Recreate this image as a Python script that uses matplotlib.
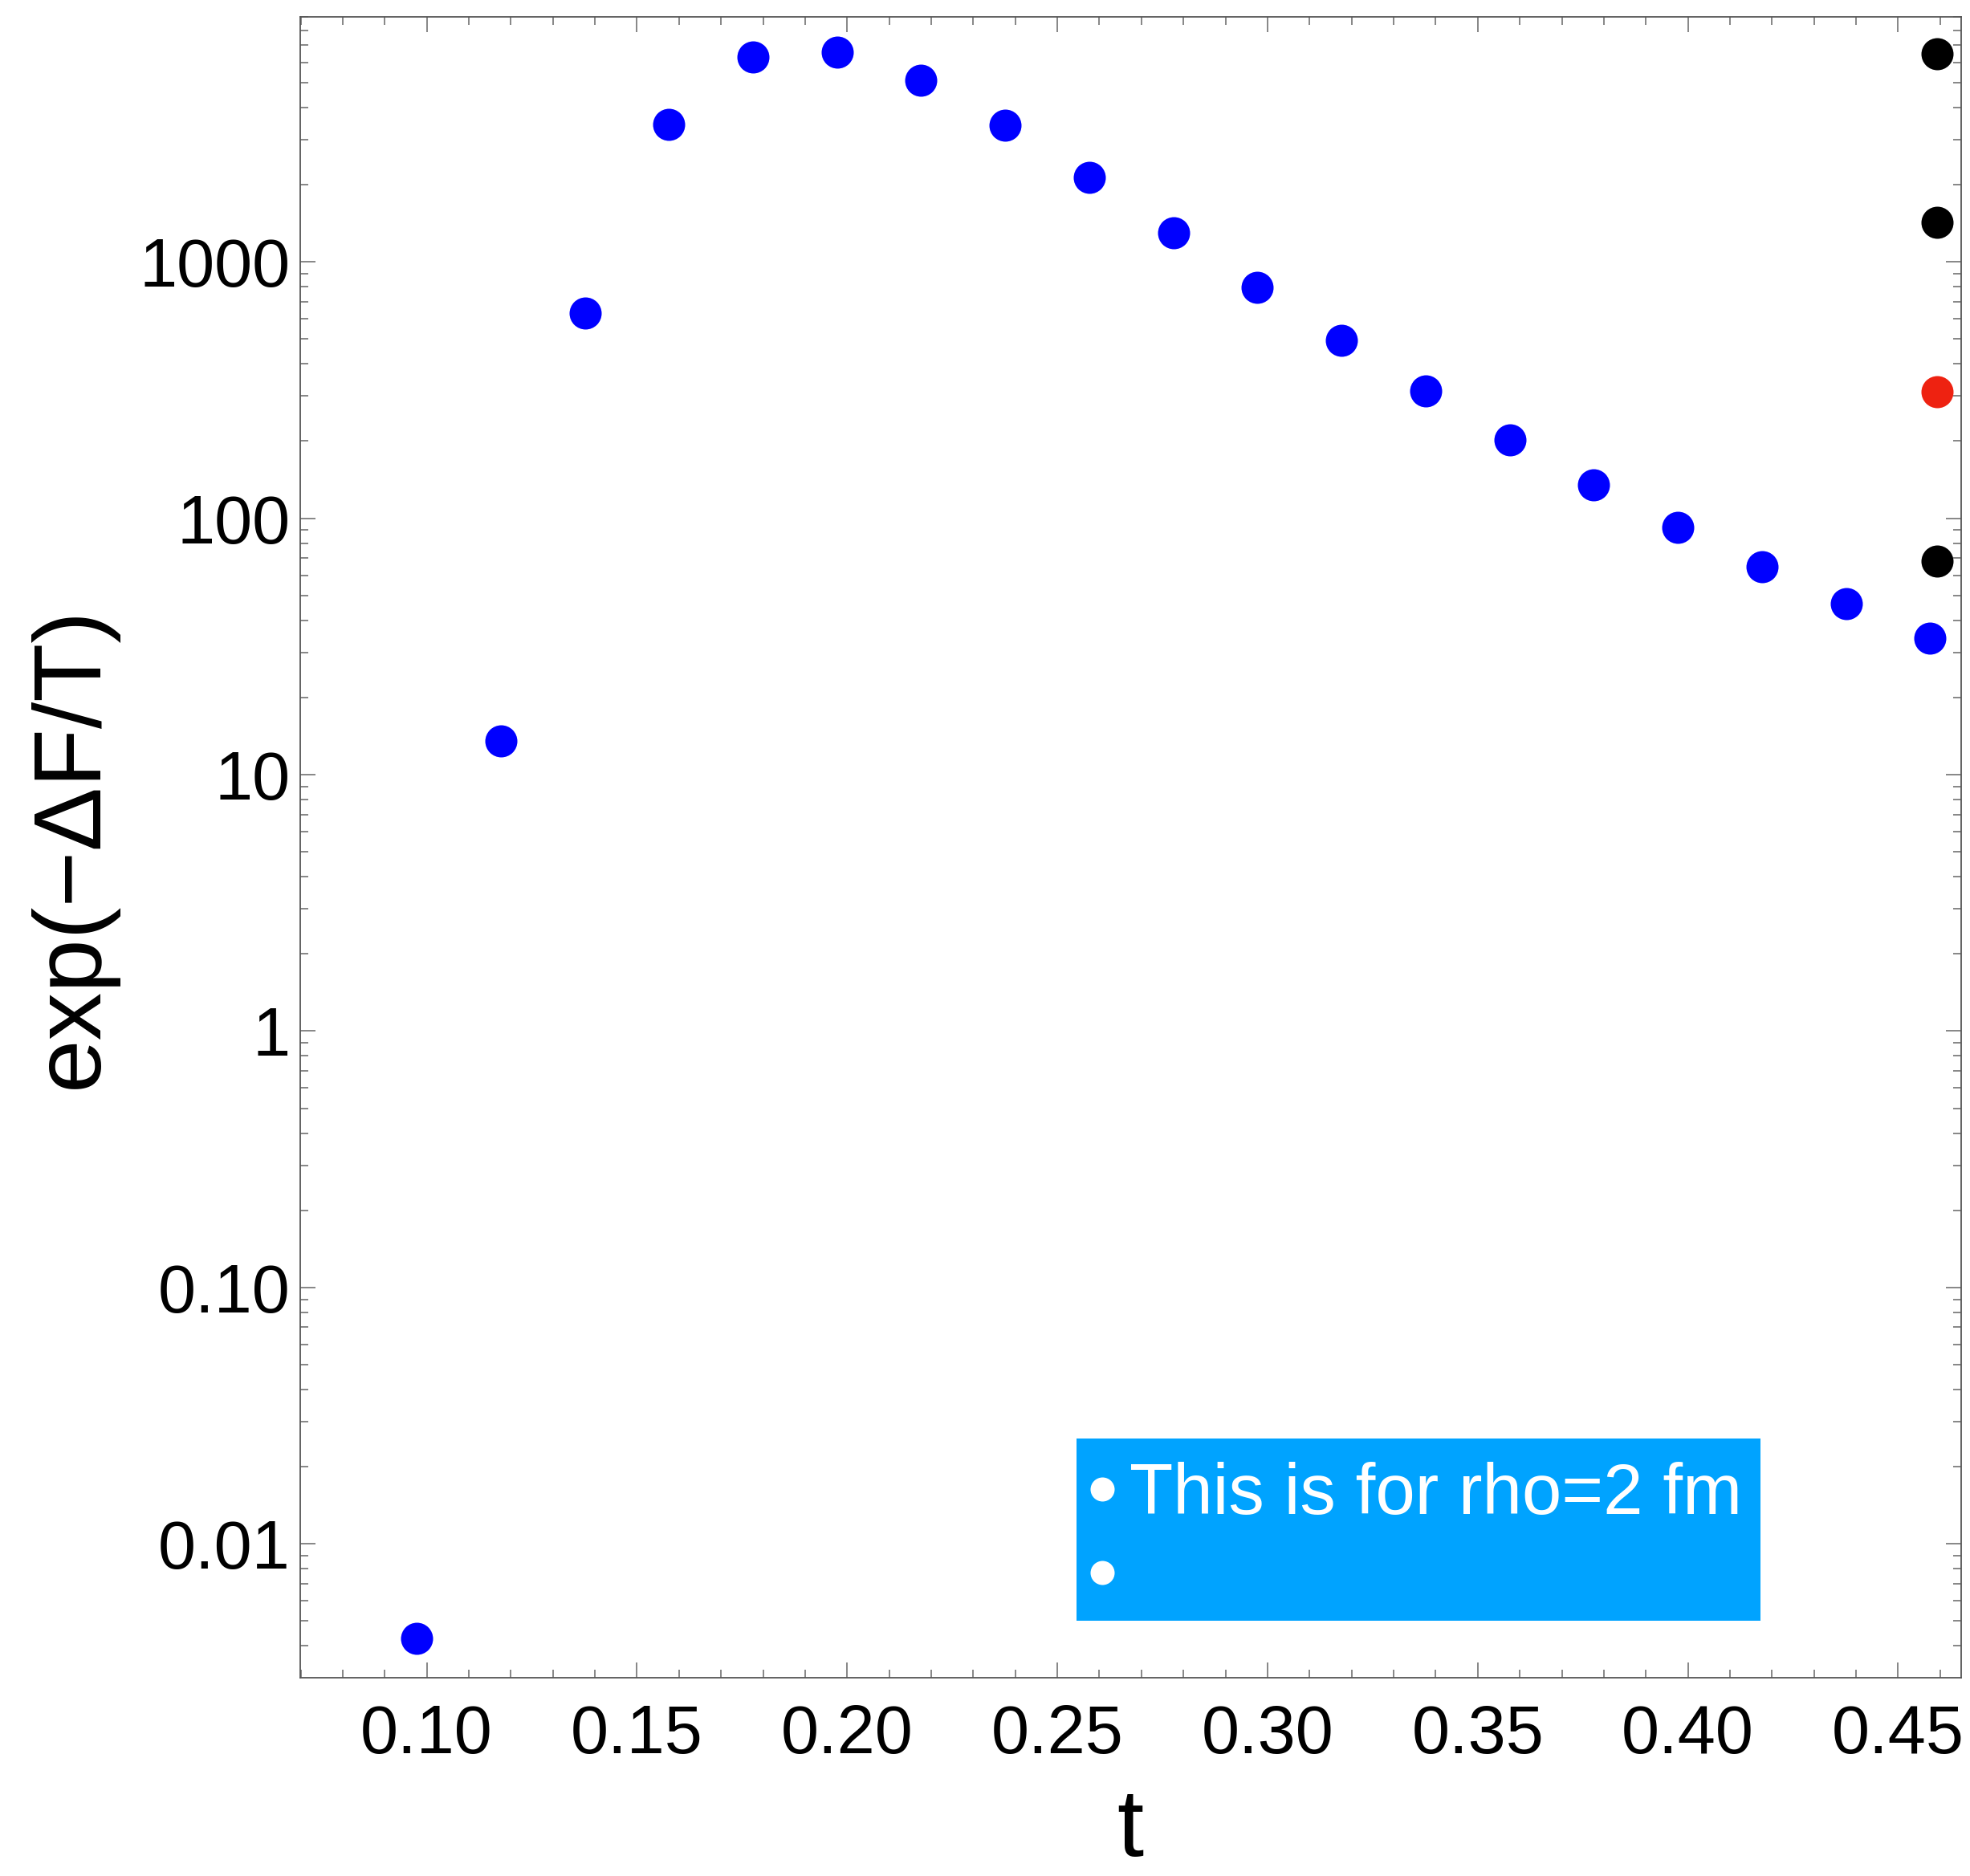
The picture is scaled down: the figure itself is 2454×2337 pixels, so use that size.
import numpy as np
import matplotlib
matplotlib.use("Agg")
import matplotlib.pyplot as plt
from matplotlib.ticker import FixedLocator, FixedFormatter, NullFormatter
from matplotlib.patches import Rectangle

plt.rcParams["font.family"] = ["Liberation Sans", "DejaVu Sans"]

# Free-energy weights exp(-dF/T) versus reduced temperature t
t_scan = [0.0976, 0.1176, 0.1376, 0.1576, 0.1776, 0.1976, 0.2176,
          0.2376, 0.2576, 0.2776, 0.2976, 0.3176, 0.3376, 0.3576,
          0.3776, 0.3976, 0.4176, 0.4376, 0.4576]
w_scan = [0.00427, 13.5, 632, 3436, 6310, 6560, 5093, 3420, 2128,
          1301, 798, 495, 313, 202.5, 134.7, 92.0, 64.7, 46.5, 34.1]

# Reference values at the end of the scan
t_ref_black = [0.4593, 0.4593, 0.4593]
w_ref_black = [6500, 1423, 68.3]
t_ref_red = [0.4593]
w_ref_red = [312]

x_ticks = [0.10, 0.15, 0.20, 0.25, 0.30, 0.35, 0.40, 0.45]
x_tick_labels = ["0.10", "0.15", "0.20", "0.25", "0.30", "0.35", "0.40", "0.45"]
y_ticks = [0.01, 0.1, 1, 10, 100, 1000]
y_tick_labels = ["0.01", "0.10", "1", "10", "100", "1000"]

legend_labels = ["This is for rho=2 fm", ""]

W, H = 2454, 2337
fig = plt.figure(figsize=(W / 100, H / 100), dpi=100)
ax = fig.add_axes([374 / W, 1 - 2090 / H, 2068.5 / W, 2068.7 / H])

ax.set_yscale("log")
ax.set_xlim(0.0699, 0.4649)
ax.set_ylim(10 ** -2.5218, 10 ** 3.9546)

ms = 28.8
ax.plot(t_scan, w_scan, "o", color="#0000FF", ms=ms, mec="none", clip_on=False, zorder=3)
ax.plot(t_ref_black, w_ref_black, "o", color="black", ms=ms, mec="none", clip_on=False, zorder=3)
ax.plot(t_ref_red, w_ref_red, "o", color="#EE2211", ms=ms, mec="none", clip_on=False, zorder=3)

# Ticks: frame on all four sides, inward ticks
ax.xaxis.set_major_locator(FixedLocator(x_ticks))
ax.xaxis.set_major_formatter(FixedFormatter(x_tick_labels))
ax.xaxis.set_minor_locator(FixedLocator(np.round(np.arange(0.07, 0.4651, 0.01), 3)))
ax.yaxis.set_major_locator(FixedLocator(y_ticks))
ax.yaxis.set_major_formatter(FixedFormatter(y_tick_labels))
minor_y = [m * 10.0 ** k for k in range(-3, 4) for m in range(2, 10)]
ax.yaxis.set_minor_locator(FixedLocator(minor_y))
ax.yaxis.set_minor_formatter(NullFormatter())

frame_col = "#555555"
tick_col = "#666666"
for s in ax.spines.values():
    s.set_color(frame_col)
    s.set_linewidth(1.3)

ax.tick_params(which="both", direction="in", top=True, right=True,
               color=tick_col, width=1.1, labelsize=61, labelcolor="black")
ax.tick_params(which="major", length=13.5)
ax.tick_params(which="minor", length=7.2)
ax.tick_params(axis="x", which="major", pad=23)
ax.tick_params(axis="y", which="major", pad=9)

ax.set_xlabel("t", fontsize=86)
ax.set_ylabel("exp(\u2212\u0394F/T)", fontsize=86)
ax.xaxis.set_label_coords(0.5, -(2226 - 2090) / 2068.7)
ax.yaxis.set_label_coords((146 - 374) / 2068.5, 0.5)

# Legend box
x0, x1 = 0.4674, 0.8794
y0, y1 = 0.03447, 0.14405
ax.add_patch(Rectangle((x0, y0), x1 - x0, y1 - y0, transform=ax.transAxes,
                       facecolor="#00A3FF", edgecolor="none", zorder=4))
row_y = [0.11345, 0.06318]
for lab, yy in zip(legend_labels, row_y):
    ax.plot([0.4832], [yy], "o", color="white", ms=21.6, mec="none",
            transform=ax.transAxes, zorder=5)
    if lab:
        ax.text(0.4995, 0.09876, lab, transform=ax.transAxes, color="white",
                fontsize=64, va="baseline", ha="left", zorder=5)

fig.savefig("out.png", dpi=100, facecolor="white")
